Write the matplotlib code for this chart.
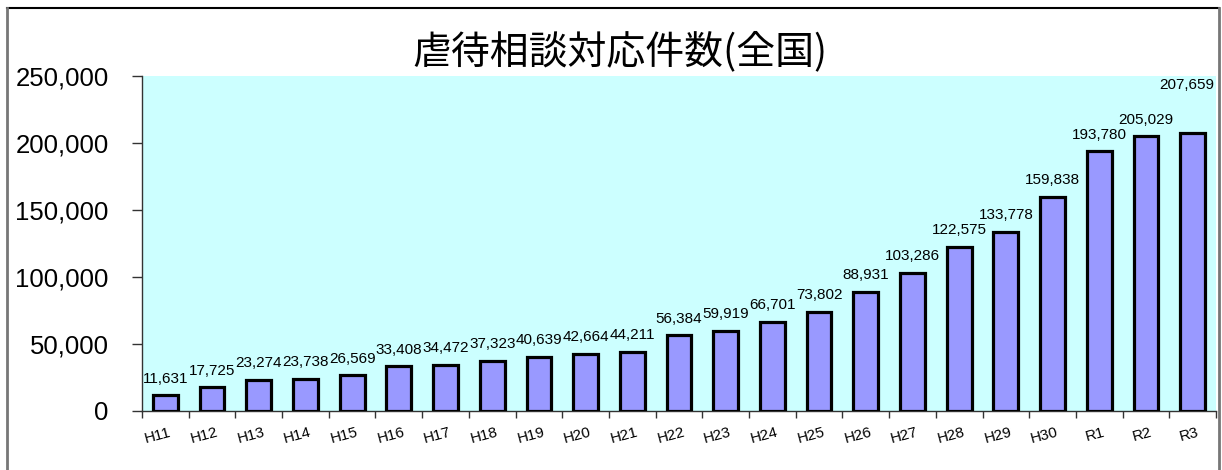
import matplotlib
matplotlib.use('Agg')
import matplotlib.pyplot as plt
from matplotlib.lines import Line2D
from matplotlib.ticker import FuncFormatter

# Data
years = ['H11', 'H12', 'H13', 'H14', 'H15', 'H16', 'H17', 'H18', 'H19', 'H20',
         'H21', 'H22', 'H23', 'H24', 'H25', 'H26', 'H27', 'H28', 'H29', 'H30',
         'R1', 'R2', 'R3']
counts = [11631, 17725, 23274, 23738, 26569, 33408, 34472, 37323, 40639, 42664,
          44211, 56384, 59919, 66701, 73802, 88931, 103286, 122575, 133778, 159838,
          193780, 205029, 207659]
y_ticks = [0, 50000, 100000, 150000, 200000, 250000]
title = '虐待相談対応件数(全国)'

num_font = 'Liberation Sans'
cjk_font = ['Noto Sans CJK JP', 'DejaVu Sans']

W, H = 1222, 470
fig = plt.figure(figsize=(W / 100, H / 100), dpi=100)
ax = fig.add_axes([142 / W, 1 - 411 / H, (1216 - 142) / W, (411 - 76) / H])

x = list(range(len(years)))
ax.set_facecolor('#CCFFFF')
ax.bar(x, counts, width=0.53, color='#9999FF', edgecolor='black', linewidth=2.3, zorder=3)

# value labels above the bars (last one was moved up in the original)
for i, v in enumerate(counts):
    dx, dy = (-4, 29) if i == len(counts) - 1 else (0, 7)
    ax.annotate(f'{v:,}', (i, v), xytext=(dx, dy), textcoords='offset points',
                ha='center', va='bottom', fontsize=11, family=num_font,
                annotation_clip=False, zorder=4)

ax.set_xlim(-0.5, len(years) - 0.5)
ax.set_ylim(0, 250000)

# ticks sit on category boundaries, labels under the bars
ax.set_xticks([i - 0.5 for i in range(len(years) + 1)])
ax.set_xticklabels([])
ax.tick_params(axis='x', direction='out', length=5, width=1, color='#333333')
for i, lab in enumerate(years):
    ax.annotate(lab, (i, 0), xytext=(4, -15), textcoords='offset points',
                ha='right', va='center', rotation=15, rotation_mode='anchor',
                fontsize=11, family=num_font, annotation_clip=False)

ax.set_yticks(y_ticks)
ax.yaxis.set_major_formatter(FuncFormatter(lambda v, p: f'{int(v):,}'))
ax.tick_params(axis='y', direction='out', length=7, width=1, color='#333333',
               labelsize=18.5, pad=17)
for t in ax.get_yticklabels():
    t.set_family(num_font)

for s in ['top', 'right']:
    ax.spines[s].set_visible(False)
for s in ['left', 'bottom']:
    ax.spines[s].set_color('#333333')
    ax.spines[s].set_linewidth(1)

fig.text(620 / W, 1 - 52 / H, title, ha='center', va='center', fontsize=28,
         family=cjk_font)

# outer frame of the chart object
fig.add_artist(Line2D([7 / W, 1219 / W], [1 - 8 / H, 1 - 8 / H], color='black', lw=1.5))
fig.add_artist(Line2D([7 / W, 7 / W], [0, 1 - 8 / H], color='#777777', lw=2))
fig.add_artist(Line2D([1219 / W, 1219 / W], [0, 1 - 8 / H], color='#777777', lw=2))

plt.savefig('out.png', dpi=100)
